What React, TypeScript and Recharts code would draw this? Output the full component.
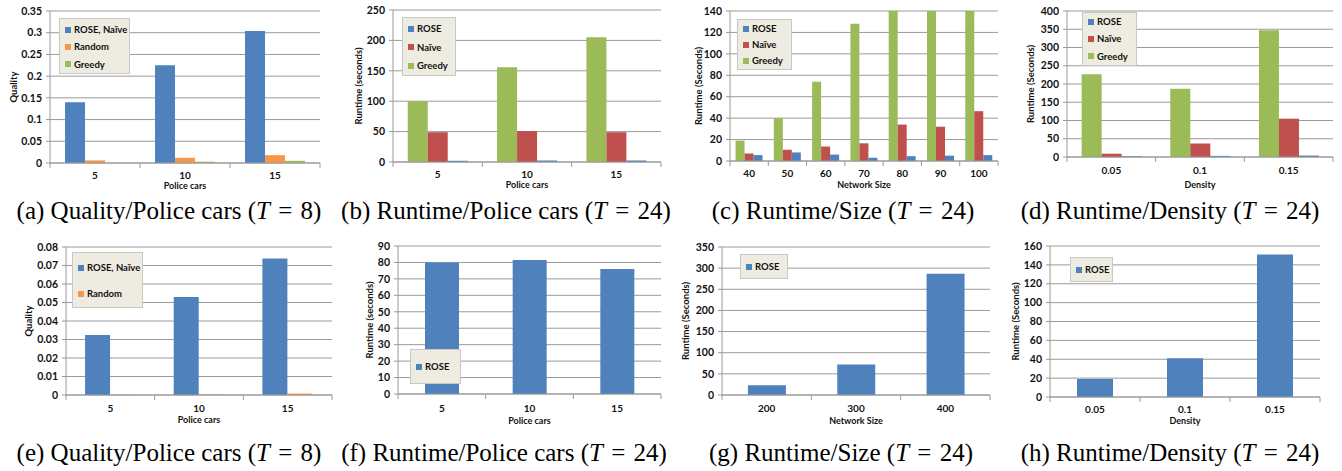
import React from 'react'
import { BarChart, Bar, XAxis, YAxis, CartesianGrid, Legend } from 'recharts'

// categories
const policeCars = ['5', '10', '15']
const networkSizes = ['40', '50', '60', '70', '80', '90', '100']
const largeSizes = ['200', '300', '400']
const densities = ['0.05', '0.1', '0.15']

// (a) quality vs police cars
const qualityRoseA = [0.14, 0.225, 0.304]
const qualityRandomA = [0.006, 0.012, 0.018]
const qualityGreedyA = [0, 0.003, 0.005]
// (b) runtime vs police cars
const runtimeGreedyB = [100, 156, 205]
const runtimeNaiveB = [49, 51, 49]
const runtimeRoseB = [2, 2.5, 2.5]
// (c) runtime vs network size
const sizeGreedyC = [19, 40, 74, 128, 140, 140, 140]
const sizeNaiveC = [7, 10.5, 13.5, 16.5, 34, 32, 46.5]
const sizeRoseC = [5.5, 8, 6, 3, 4.5, 5, 5.5]
// (d) runtime vs density
const densGreedyD = [227, 187, 347]
const densNaiveD = [9, 37, 105]
const densRoseD = [2, 3, 4]
// (e) quality vs police cars
const qualityRoseE = [0.0325, 0.053, 0.0738]
const qualityRandomE = [0.0003, 0.0003, 0.0008]
// (f), (g), (h) ROSE only
const runtimeRoseF = [80, 81.5, 76]
const sizeRoseG = [23, 72, 287]
const densRoseH = [19, 41, 151]

// y ticks
const ticksA = [0, 0.05, 0.1, 0.15, 0.2, 0.25, 0.3, 0.35]
const ticksB = [0, 50, 100, 150, 200, 250]
const ticksC = [0, 20, 40, 60, 80, 100, 120, 140]
const ticksD = [0, 50, 100, 150, 200, 250, 300, 350, 400]
const ticksE = [0, 0.01, 0.02, 0.03, 0.04, 0.05, 0.06, 0.07, 0.08]
const ticksF = [0, 10, 20, 30, 40, 50, 60, 70, 80, 90]
const ticksG = [0, 50, 100, 150, 200, 250, 300, 350]
const ticksH = [0, 20, 40, 60, 80, 100, 120, 140, 160]

// captions
const captionLetters = ['a', 'b', 'c', 'd', 'e', 'f', 'g', 'h']
const captionTitles = [
  'Quality/Police cars', 'Runtime/Police cars', 'Runtime/Size', 'Runtime/Density',
  'Quality/Police cars', 'Runtime/Police cars', 'Runtime/Size', 'Runtime/Density',
]
const captionT = ['8', '24', '24', '24', '8', '24', '24', '24']

const BLUE = '#4F81BD'
const RED = '#C0504D'
const GREEN = '#9BBB59'
const ORANGE = '#F79646'
const GRID = '#9A9A9A'
const UI_FONT = 'Lato, "Open Sans", sans-serif'

type Series = { name: string; color: string; values: number[] }
type Panel = {
  x0: number; y0: number; x1: number; y1: number
  cats: string[]
  series: Series[]
  legendOrder: string[]
  ticks: number[]
  yLabel: string
  xLabel: string
  yLabelX: number
  tickDy: number
  titleDy: number
  gap: string
  legend: { x: number; y: number; w: number; h: number; lh: number; pt: number }
}

const panels: Panel[] = [
  {
    x0: 50, y0: 11, x1: 320, y1: 163, cats: policeCars,
    series: [
      { name: 'ROSE, Naïve', color: BLUE, values: qualityRoseA },
      { name: 'Random', color: ORANGE, values: qualityRandomA },
      { name: 'Greedy', color: GREEN, values: qualityGreedyA },
    ],
    legendOrder: ['ROSE, Naïve', 'Random', 'Greedy'],
    ticks: ticksA, yLabel: 'Quality', xLabel: 'Police cars', yLabelX: 13,
    tickDy: 11.5, titleDy: 22.5, gap: '16.7%',
    legend: { x: 59, y: 18, w: 71, h: 56, lh: 18, pt: 2 },
  },
  {
    x0: 393, y0: 10, x1: 661, y1: 162, cats: policeCars,
    series: [
      { name: 'Greedy', color: GREEN, values: runtimeGreedyB },
      { name: 'Naïve', color: RED, values: runtimeNaiveB },
      { name: 'ROSE', color: BLUE, values: runtimeRoseB },
    ],
    legendOrder: ['ROSE', 'Naïve', 'Greedy'],
    ticks: ticksB, yLabel: 'Runtime (seconds)', xLabel: 'Police cars', yLabelX: 358,
    tickDy: 11.5, titleDy: 22.5, gap: '16.5%',
    legend: { x: 402, y: 17, w: 54, h: 59, lh: 19, pt: 1.5 },
  },
  {
    x0: 730, y0: 11, x1: 998, y1: 161, cats: networkSizes,
    series: [
      { name: 'Greedy', color: GREEN, values: sizeGreedyC },
      { name: 'Naïve', color: RED, values: sizeNaiveC },
      { name: 'ROSE', color: BLUE, values: sizeRoseC },
    ],
    legendOrder: ['ROSE', 'Naïve', 'Greedy'],
    ticks: ticksC, yLabel: 'Runtime (Seconds)', xLabel: 'Network Size', yLabelX: 698,
    tickDy: 12, titleDy: 23.5, gap: '14.5%',
    legend: { x: 737, y: 19, w: 55, h: 51, lh: 17, pt: 0.5 },
  },
  {
    x0: 1067, y0: 11, x1: 1333, y1: 157, cats: densities,
    series: [
      { name: 'Greedy', color: GREEN, values: densGreedyD },
      { name: 'Naïve', color: RED, values: densNaiveD },
      { name: 'ROSE', color: BLUE, values: densRoseD },
    ],
    legendOrder: ['ROSE', 'Naïve', 'Greedy'],
    ticks: ticksD, yLabel: 'Runtime (Seconds)', xLabel: 'Density', yLabelX: 1030,
    tickDy: 13, titleDy: 27, gap: '16.5%',
    legend: { x: 1082, y: 12, w: 55, h: 54, lh: 18, pt: 0 },
  },
  {
    x0: 66, y0: 247, x1: 332, y1: 395, cats: policeCars,
    series: [
      { name: 'ROSE, Naïve', color: BLUE, values: qualityRoseE },
      { name: 'Random', color: ORANGE, values: qualityRandomE },
    ],
    legendOrder: ['ROSE, Naïve', 'Random'],
    ticks: ticksE, yLabel: 'Quality', xLabel: 'Police cars', yLabelX: 28,
    tickDy: 12.5, titleDy: 24.5, gap: '21.5%',
    legend: { x: 72, y: 252, w: 71, h: 56, lh: 27, pt: 1.5 },
  },
  {
    x0: 398, y0: 246, x1: 661, y1: 394, cats: policeCars,
    series: [{ name: 'ROSE', color: BLUE, values: runtimeRoseF }],
    legendOrder: ['ROSE'],
    ticks: ticksF, yLabel: 'Runtime (seconds)', xLabel: 'Police cars', yLabelX: 369,
    tickDy: 13.5, titleDy: 26, gap: '30.8%',
    legend: { x: 410, y: 349, w: 51, h: 35, lh: 35, pt: 0 },
  },
  {
    x0: 722, y0: 247, x1: 990, y1: 395, cats: largeSizes,
    series: [{ name: 'ROSE', color: BLUE, values: sizeRoseG }],
    legendOrder: ['ROSE'],
    ticks: ticksG, yLabel: 'Runtime (Seconds)', xLabel: 'Network Size', yLabelX: 685,
    tickDy: 13, titleDy: 25, gap: '29%',
    legend: { x: 740, y: 254, w: 48, h: 25, lh: 27, pt: 0 },
  },
  {
    x0: 1050, y0: 246, x1: 1320, y1: 397, cats: densities,
    series: [{ name: 'ROSE', color: BLUE, values: densRoseH }],
    legendOrder: ['ROSE'],
    ticks: ticksH, yLabel: 'Runtime (Seconds)', xLabel: 'Density', yLabelX: 1015,
    tickDy: 12, titleDy: 23.5, gap: '30%',
    legend: { x: 1070, y: 257, w: 43, h: 25, lh: 25, pt: 0 },
  },
]

const captionPos = [
  { cx: 169, cy: 211 }, { cx: 506, cy: 211 }, { cx: 843, cy: 211 }, { cx: 1170, cy: 211 },
  { cx: 169, cy: 453 }, { cx: 504, cy: 453 }, { cx: 841, cy: 453 }, { cx: 1170, cy: 453 },
]

const AXIS_W = 60
const AXIS_H = 35
const PAD_T = 10
const PAD_R = 10

function PanelChart({ p }: { p: Panel }) {
  const left = p.x0 - AXIS_W
  const top = p.y0 - PAD_T
  const width = p.x1 - p.x0 + AXIS_W + PAD_R
  const height = p.y1 - p.y0 + PAD_T + AXIS_H
  const bw = (p.x1 - p.x0) / p.cats.length
  const rows = p.cats.map((c, i) => {
    const r: any = { cat: c }
    p.series.forEach((s, k) => { r['s' + k] = s.values[i] })
    return r
  })
  const colorOf = (n: string) => p.series.find((s) => s.name === n)!.color
  const lg = p.legend

  const tick = (t: any) => (
    <g>
      <line x1={t.x - bw / 2} y1={t.y} x2={t.x - bw / 2} y2={t.y + 5} stroke={GRID} />
      {t.index === p.cats.length - 1 && (
        <line x1={t.x + bw / 2} y1={t.y} x2={t.x + bw / 2} y2={t.y + 5} stroke={GRID} />
      )}
      <text x={t.x} y={t.y + p.tickDy} textAnchor="middle" dominantBaseline="central"
        fontFamily={UI_FONT} fontWeight={700} fontSize={10} fill="#111">
        {t.payload.value}
      </text>
    </g>
  )

  return (
    <div style={{ position: 'absolute', left, top }}>
      <BarChart width={width} height={height} data={rows}
        margin={{ top: PAD_T, right: PAD_R, left: 0, bottom: 0 }}
        barCategoryGap={p.gap} barGap={0}>
        <CartesianGrid vertical={false} stroke={GRID} />
        <XAxis dataKey="cat" height={AXIS_H} tickSize={0} tickMargin={0}
          axisLine={{ stroke: GRID }} tickLine={false} tick={tick} interval={0}
          label={{
            content: (lp: any) => (
              <text x={lp.viewBox.x + lp.viewBox.width / 2} y={lp.viewBox.y + p.titleDy}
                textAnchor="middle" dominantBaseline="central" fontFamily={UI_FONT}
                fontWeight={700} fontSize={9} fill="#111">{p.xLabel}</text>
            ),
          }} />
        <YAxis width={AXIS_W} domain={[p.ticks[0], p.ticks[p.ticks.length - 1]]}
          ticks={p.ticks} allowDataOverflow interval={0}
          tickSize={4} tickMargin={4} axisLine={{ stroke: GRID }} tickLine={{ stroke: GRID }}
          tick={{ fontFamily: UI_FONT, fontWeight: 700, fontSize: 10.5, fill: '#111' }}
          label={{
            content: (lp: any) => {
              const lx = lp.viewBox.x + (p.yLabelX - left)
              const ly = lp.viewBox.y + lp.viewBox.height / 2
              return (
                <text x={lx} y={ly} transform={`rotate(-90 ${lx} ${ly})`} textAnchor="middle"
                  dominantBaseline="central" fontFamily={UI_FONT} fontWeight={700}
                  fontSize={9.5} fill="#111">{p.yLabel}</text>
              )
            },
          }} />
        {p.series.map((s, k) => (
          <Bar key={s.name} dataKey={'s' + k} name={s.name} fill={s.color} isAnimationActive={false} />
        ))}
        <Legend layout="vertical" align="center" verticalAlign="middle"
          wrapperStyle={{ left: lg.x - left, top: lg.y - top, width: lg.w, height: lg.h }}
          content={() => (
            <div style={{
              boxSizing: 'border-box', width: lg.w, height: lg.h, background: '#EEECE1',
              border: '1px solid #C8C8C8', paddingTop: lg.pt, paddingLeft: 5,
              display: 'flex', flexDirection: 'column',
              justifyContent: p.legendOrder.length === 1 ? 'center' : 'flex-start',
            }}>
              {p.legendOrder.map((n) => (
                <div key={n} style={{
                  display: 'flex', alignItems: 'center', height: p.legendOrder.length === 1 ? 'auto' : lg.lh,
                  fontFamily: UI_FONT, fontWeight: 700, fontSize: 9.5, color: '#111', whiteSpace: 'nowrap',
                }}>
                  <span style={{ display: 'inline-block', width: 6, height: 6, background: colorOf(n), marginRight: 3 }} />
                  {n}
                </div>
              ))}
            </div>
          )} />
      </BarChart>
    </div>
  )
}

export default function App() {
  return (
    <div style={{ position: 'absolute', left: 0, top: 0, width: 1342, height: 471, background: '#fff', overflow: 'hidden' }}>
      {panels.map((p, i) => <PanelChart key={i} p={p} />)}
      {captionLetters.map((l, i) => (
        <div key={l} style={{
          position: 'absolute', left: captionPos[i].cx - 200, top: captionPos[i].cy - 14, width: 400, height: 28,
          lineHeight: '28px', textAlign: 'center', whiteSpace: 'nowrap',
          fontFamily: '"Liberation Serif", "Times New Roman", serif', fontSize: 25, color: '#000',
        }}>
          ({l}) {captionTitles[i]} (<i>T</i><span style={{ margin: '0 0.08em' }}> = </span>{captionT[i]})
        </div>
      ))}
    </div>
  )
}
